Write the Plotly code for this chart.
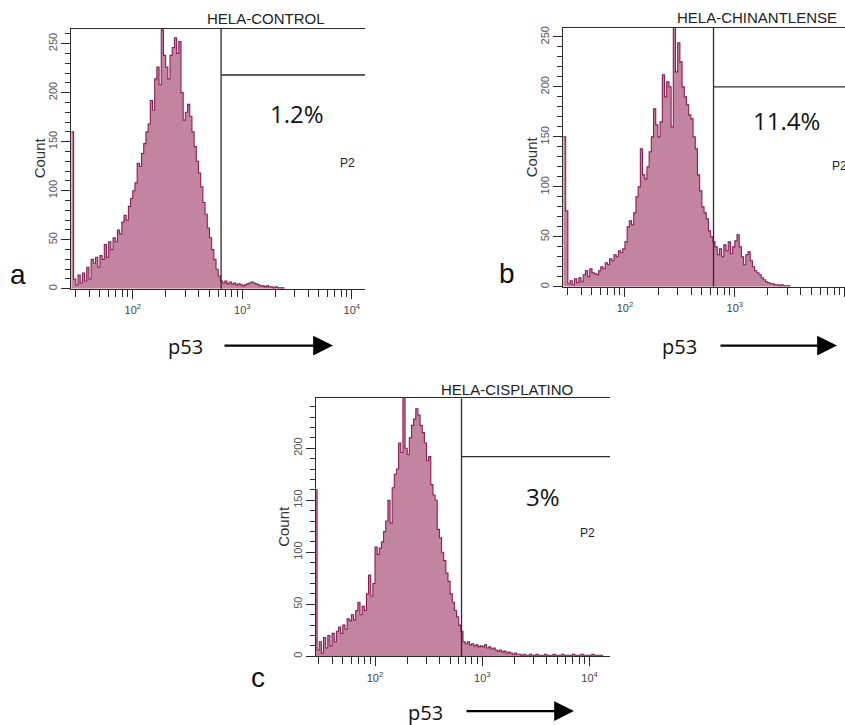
import plotly.graph_objects as go

# ---------------------------------------------------------------------------
# Data
# ---------------------------------------------------------------------------
# Log-spaced fluorescence channels: log10 of the first channel edge and width
CHANNEL_START_LOG = 1.44
CHANNEL_WIDTH_LOG = 0.02

panel_titles = ["HELA-CONTROL", "HELA-CHINANTLENSE", "HELA-CISPLATINO"]
panel_letters = ["a", "b", "c"]
p2_percent = ["1.2%", "11.4%", "3%"]
p2_name = "P2"
x_label = "p53"
y_label = "Count"

gate_threshold = 640                  # p53 intensity at the P2 boundary
gate_marker_count = [218, 200, 192]   # height of the P2 marker bar (events)

# Events per channel, one value per channel starting at CHANNEL_START_LOG
counts_control = [
    160, 10, 4, 14, 6, 16, 8, 22, 10, 30,
    26, 32, 22, 34, 30, 45, 32, 48, 40, 52,
    48, 60, 56, 68, 75, 70, 84, 92, 100, 108,
    128, 125, 138, 148, 160, 168, 192, 182, 214, 226,
    208, 264, 238, 226, 214, 238, 246, 256, 240, 252,
    200, 172, 180, 188, 176, 160, 145, 130, 118, 104,
    88, 76, 62, 52, 40, 30, 20, 13, 8, 6,
    8, 5, 7, 5, 6, 4, 5, 4, 3, 4,
    5, 6, 7, 6, 5, 4, 3, 3, 2, 3,
    2, 2, 1, 2, 1, 1, 1,
]

counts_chinantlense = [
    150, 76, 3, 6, 2, 8, 4, 9, 5, 12,
    16, 10, 18, 14, 13, 12, 16, 20, 18, 24,
    22, 28, 26, 32, 30, 36, 34, 38, 45, 60,
    66, 62, 74, 90, 100, 138, 112, 108, 120, 135,
    150, 178, 162, 150, 165, 212, 190, 205, 200, 160,
    260, 215, 244, 225, 200, 190, 182, 172, 168, 150,
    138, 112, 96, 80, 74, 68, 56, 50, 45, 40,
    32, 38, 30, 42, 36, 45, 33, 40, 46, 52,
    40, 30, 22, 32, 35, 26, 20, 16, 14, 12,
    9, 7, 5, 4, 3, 3, 2, 2, 1, 2,
    1, 1, 1,
]

counts_cisplatino = [
    160, 6, 14, 3, 18, 8, 20, 10, 22, 14,
    24, 28, 22, 30, 26, 36, 34, 40, 35, 44,
    52, 40, 48, 44, 60, 78, 58, 70, 105, 98,
    104, 110, 120, 130, 150, 128, 162, 175, 180, 205,
    196, 248, 200, 194, 210, 222, 228, 238, 232, 222,
    215, 205, 188, 192, 165, 155, 150, 122, 114, 100,
    92, 80, 72, 60, 52, 44, 38, 30, 24, 14,
    12, 14, 11, 12, 10, 11, 9, 10, 9, 11,
    8, 9, 7, 8, 6, 5, 6, 4, 5, 3,
    4, 3, 2, 3, 2, 2, 1, 2, 1, 1,
    2, 1, 1, 2, 1, 1, 1, 2, 1, 1,
    1, 2, 1, 1, 1, 2, 1, 1, 1, 1,
    2, 1, 1, 1, 2, 1, 1, 1, 1, 2,
    1, 1, 1, 1,
]

x_tick_values = [1e2, 1e3, 1e4]
x_tick_labels = ["10<sup>2</sup>", "10<sup>3</sup>", "10<sup>4</sup>"]
x_minor_values = [20, 30, 40, 50, 60, 70, 80, 90,
                  200, 300, 400, 500, 600, 700, 800, 900,
                  2000, 3000, 4000, 5000, 6000, 7000, 8000, 9000]

# ---------------------------------------------------------------------------
# Layout (pixel geometry of each histogram box)
# ---------------------------------------------------------------------------
W, H = 845, 725
FILL = "rgba(184, 110, 143, 0.85)"
EDGE = "#8a1d55"
AXIS = "#2b2b2b"
SANS = "Arial, Liberation Sans, sans-serif"
SOFT = "Open Sans, Lato, sans-serif"


def fx(px):
    return px / W


def fy(py):
    return 1 - py / H


panels = [
    dict(counts=counts_control, left=71, right=365, top=27, bottom=288,
         xr=[1.436, 4.12], ymax=265,
         title_xy=(266, 17), pct_xy=(297, 112), p2_xy=(347, 162), p2_anchor="center",
         letter_xy=(18, 274), count_xy=(39, 157), p53_xy=(185, 346), arrow=(223, 333, 345)),
    dict(counts=counts_chinantlense, left=563, right=845, top=26, bottom=286,
         xr=[1.436, 4.003], ymax=259,
         title_xy=(757, 16), pct_xy=(786, 119), p2_xy=(830, 165), p2_anchor="left",
         letter_xy=(507, 273), count_xy=(531, 156), p53_xy=(679, 346), arrow=(719, 837, 345)),
    dict(counts=counts_cisplatino, left=316, right=610, top=398, bottom=657,
         xr=[1.45, 4.19], ymax=248,
         title_xy=(507, 389), pct_xy=(543, 497), p2_xy=(587, 533), p2_anchor="center",
         letter_xy=(258, 678), count_xy=(284, 527), p53_xy=(425, 713), arrow=(465, 574, 712)),
]

fig = go.Figure()
layout = dict(
    width=W, height=H,
    margin=dict(l=0, r=0, t=0, b=0),
    paper_bgcolor="white", plot_bgcolor="white",
    showlegend=False,
    font=dict(family=SANS, color="#333"),
)
annotations = []


def note(text, xy, size, family=SANS, color="#222", angle=0, anchor="center"):
    annotations.append(dict(text=text, x=fx(xy[0]), y=fy(xy[1]), xref="paper", yref="paper",
                            showarrow=False, xanchor=anchor, yanchor="middle",
                            textangle=angle, font=dict(family=family, size=size, color=color)))


for k, p in enumerate(panels):
    sfx = "" if k == 0 else str(k + 1)
    xname, yname = "x" + sfx, "y" + sfx

    counts = p["counts"]
    edges = [10 ** (CHANNEL_START_LOG + CHANNEL_WIDTH_LOG * i) for i in range(len(counts) + 1)]
    fig.add_trace(go.Scatter(
        x=edges, y=list(counts) + [0],
        mode="lines", line=dict(shape="hv", color=EDGE, width=1.1),
        fill="tozeroy", fillcolor=FILL,
        xaxis=xname, yaxis=yname, hoverinfo="skip",
    ))

    # P2 gate: vertical boundary and marker bar, in data units
    x_end = 10 ** p["xr"][1]
    fig.add_trace(go.Scatter(
        x=[gate_threshold, gate_threshold], y=[0, p["ymax"]],
        mode="lines", line=dict(color=AXIS, width=1.3),
        xaxis=xname, yaxis=yname, hoverinfo="skip",
    ))
    fig.add_trace(go.Scatter(
        x=[gate_threshold, x_end], y=[gate_marker_count[k], gate_marker_count[k]],
        mode="lines", line=dict(color=AXIS, width=1.3),
        xaxis=xname, yaxis=yname, hoverinfo="skip",
    ))

    layout["xaxis" + sfx] = dict(
        type="log", range=p["xr"], domain=[fx(p["left"]), fx(p["right"])],
        anchor=yname, showline=True, mirror=True, linecolor=AXIS, linewidth=1.2,
        showgrid=False, zeroline=False,
        tickmode="array", tickvals=x_tick_values, ticktext=x_tick_labels,
        ticks="outside", ticklen=9, tickwidth=1.2, tickcolor=AXIS,
        tickfont=dict(family=SANS, size=11, color="#444"), ticklabelstandoff=2,
        minor=dict(tickmode="array", tickvals=x_minor_values, ticks="outside",
                   ticklen=7, tickwidth=1.2, tickcolor=AXIS, showgrid=False),
    )
    layout["yaxis" + sfx] = dict(
        range=[0, p["ymax"]], domain=[fy(p["bottom"]), fy(p["top"])],
        anchor=xname, showline=True, linecolor=AXIS, linewidth=1.2,
        showgrid=False, zeroline=False,
        tickmode="linear", tick0=0, dtick=50, tickangle=-90,
        ticks="outside", ticklen=9, tickwidth=1.2, tickcolor=AXIS,
        tickfont=dict(family=SANS, size=11, color="#555"),
        minor=dict(dtick=10, ticks="outside", ticklen=5, tickwidth=1, tickcolor=AXIS,
                   showgrid=False),
    )

    note(panel_titles[k], p["title_xy"], 15)
    note(p2_percent[k], p["pct_xy"], 24, family=SOFT, color="#111")
    note(p2_name, p["p2_xy"], 12, anchor=p["p2_anchor"])
    note(panel_letters[k], p["letter_xy"], 28, color="#111")
    note(y_label, p["count_xy"], 15, color="#333", angle=-90)
    note(x_label, p["p53_xy"], 20, family=SOFT, color="#111")

    tail, tip, ay = p["arrow"]
    annotations.append(dict(text="", x=fx(tip), y=fy(ay), ax=-(tip - tail), ay=0,
                            xref="paper", yref="paper", axref="pixel", ayref="pixel",
                            showarrow=True, arrowhead=2, arrowsize=1.8, arrowwidth=2.2,
                            arrowcolor="#000", standoff=0, startstandoff=0))

layout["annotations"] = annotations
fig.update_layout(**layout)

fig.write_html("out.html")
